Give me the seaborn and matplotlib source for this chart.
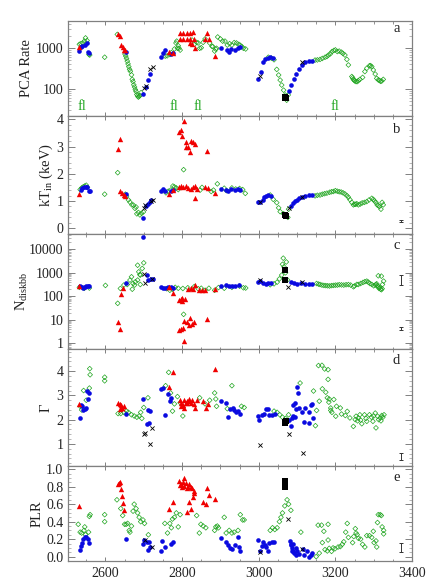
import numpy as np
import seaborn as sns
import matplotlib
matplotlib.use("Agg")
import matplotlib.pyplot as plt
from matplotlib.ticker import MultipleLocator, LogLocator, NullFormatter, FixedLocator, FixedFormatter

# panel a: PCA rate
a_green_x = [2532,2536,2541,2545,2548,2552,2557,2559,2598,2631,2651,2653,2655,2657,2659,2661,2663,2665,2668,2670,2672,2674,2676,2678,2680,2682,2684,2686,2688,2690,2693,
             2756,2761,2768,2772,2780,2784,2786,2788,2790,2792,2795,2826,2832,2838,2842,2846,2850,2855,2860,2872,2878,2880,2885,2888,2890,2893,2900,2906,2912,2918,2924,2930,2936,2942,2948,2952,2956,2960,2966,
             3025,3033,3040,3047,3052,3056,3060,3065,3069,3073,3077,3147,3153,3160,3166,3173,3178,3182,3187,3191,3196,3200,3205,3210,3216,3220,3225,3230,3234,3243,3245,3247,3249,3251,3254,3257,3260,3264,3271,3277,3282,3289,3292,3295,3299,3304,3308,3312,3315,3318,3321,3325]
a_green_y = [1250,1300,1350,1500,1800,1550,700,680,600,2200,720,640,560,480,410,350,300,270,220,170,150,125,110,95,85,72,66,62,65,68,80,
             640,650,700,780,960,1350,1500,1000,1150,1000,900,1600,1250,1400,1350,1000,1030,1400,1700,1350,1120,1100,850,950,1000,1900,1700,1500,1500,1200,1300,1200,1380,1350,1250,1180,1100,1000,960,
             600,570,520,300,218,163,123,92,70,52,70,510,515,530,560,600,625,680,730,825,880,910,830,850,800,740,680,530,386,200,185,170,162,155,150,150,158,170,190,265,320,370,372,350,290,230,180,165,160,152,155,170]
a_blue_x = [2532,2536,2540,2547,2551,2554,2558,2654,2697,2705,2711,2715,2744,2749,2756,2771,2776,2902,2917,2923,2928,2939,2945,2950,2998,3006,3011,3017,3023,3030,3037,3080,3085,3091,3097,3104,3113,3121,3130,3139]
a_blue_y = [875,1100,1150,1200,1330,800,780,820,74,108,165,230,600,750,900,710,780,1000,900,820,950,900,1000,1060,175,265,470,530,570,600,570,90,125,170,230,310,390,470,490,490]
a_red_x = [2530,2633,2637,2640,2645,2649,2652,2766,2777,2795,2803,2812,2821,2829,2795,2803,2812,2821,2825,2834,2865,2860,2869,2885,2830,2821]
a_red_y = [1050,2200,2050,1200,1100,910,880,830,750,2350,2400,2350,2350,2500,1680,1680,1650,1650,1300,1000,2350,1680,1680,650,1650,1350]
a_black_x = [3068,3069,3070]
a_black_y = [60,62,58]
a_cross_x = [2701,2706,2716,2723,3004,3113]
a_cross_y = [105,115,300,340,205,470]

# panel b: inner disk temperature
b_green_x = [2534,2538,2542,2546,2550,2553,2598,2632,2804,2652,2655,2660,2664,2669,2673,2677,2680,2682,2686,2690,2694,2699,2758,2764,2770,2776,2780,2785,2790,2847,2852,2876,2882,2892,2910,2916,2930,2940,2950,2958,2965,
             3030,3038,3047,3052,3056,3065,3070,3076,3078,3147,3153,3160,3166,3172,3178,3185,3190,3195,3200,3205,3210,3215,3220,3225,3230,3234,3238,3243,3247,3250,3253,3256,3260,3265,3270,3276,3282,3288,3295,3299,3302,3306,3309,3312,3315,3319,3325,3322]
b_green_y = [1.42,1.48,1.52,1.55,1.58,1.5,1.25,2.04,2.15,1.25,1.18,1.04,.96,.86,.85,.73,.78,.53,.58,.49,.55,.6,1.3,1.36,1.4,1.55,1.52,1.48,1.42,1.4,1.5,1.35,1.4,1.63,1.47,1.38,1.48,1.44,1.46,1.42,1.28,
             1.22,1.06,.94,.75,.61,.53,.45,.4,.7,1.19,1.21,1.22,1.25,1.27,1.29,1.32,1.34,1.35,1.38,1.36,1.34,1.33,1.3,1.26,1.2,1.14,1.05,.95,.86,.88,.88,.9,.86,.89,.93,.95,.98,1.04,1.1,1.06,1.0,.95,.86,.83,.8,.7,.86,.95]
b_blue_x = [2536,2540,2544,2548,2552,2556,2560,2654,2698,2706,2711,2716,2720,2744,2750,2756,2771,2776,2902,2915,2920,2928,2938,2945,2952,2998,3004,3010,3015,3020,3025,3032,3085,3090,3095,3100,3106,3113,3120,3130,3140]
b_blue_y = [1.42,1.47,1.5,1.52,1.5,1.37,1.38,1.25,.37,.83,.9,.97,1.02,1.37,1.43,1.37,1.35,1.42,1.44,1.4,1.37,1.45,1.4,1.43,1.42,.95,.98,1.05,1.15,1.2,1.22,1.2,.83,.92,1.0,1.05,1.1,1.15,1.2,1.23,1.22]
b_red_x = [2530,2634,2637,2638,2643,2649,2652,2766,2777,2793,2798,2803,2810,2816,2822,2828,2834,2840,2860,2868,2885,2793,2796,2800,2805,2809,2810,2815,2821,2824,2829,2833,2865,2834]
b_red_y = [1.25,2.9,3.28,1.38,1.31,1.22,1.2,1.25,1.4,1.53,1.55,1.5,1.55,1.48,1.43,1.5,1.55,1.45,1.52,1.48,1.3,3.55,3.6,3.4,3.94,3.0,3.15,3.0,2.78,3.2,3.15,3.1,2.85,1.11]
b_black_x = [3068,3069,3070]
b_black_y = [.47,.5,.45]
b_cross_x = [2701,2704,2718,2723,3004,3078,3113]
b_cross_y = [.75,.85,1.0,1.05,.98,.75,1.15]

# panel c: disk normalisation
c_green_x = [2532,2545,2558,2600,2632,2639,2648,2657,2664,2668,2672,2678,2684,2670,2676,2691,2687,2684,2691,2700,2696,2690,2760,2768,2775,2782,2790,2802,2815,2832,2842,2850,2860,2870,2885,2895,2910,2930,2950,2960,2966,
             3030,3040,3048,3054,3060,3062,3064,3066,3068,3070,3072,3075,
             3151,3156,3160,3165,3170,3175,3180,3185,3190,3195,3200,3205,3210,3216,3222,3228,3234,3240,3247,3250,3256,3260,3266,3272,3277,3282,3286,3290,3295,3300,3304,3306,3308,3310,3312,3314,3316,3318,3320,3322,3312,3320,3326,3323,2804]
c_green_y = [240,220,225,290,50,215,300,318,490,675,350,415,490,200,300,318,1100,2100,800,2650,1530,850,210,180,200,240,220,215,230,260,210,220,180,220,180,235,220,240,270,230,225,
             310,340,400,550,800,2300,4200,1800,1400,1000,2900,500,
             350,330,318,300,290,285,280,275,285,290,298,300,310,305,300,310,315,300,254,275,320,318,350,388,420,442,400,350,320,280,300,318,340,280,250,215,240,200,190,210,745,720,442,318,17]
c_blue_x = [2534,2538,2542,2546,2550,2554,2558,2654,2699,2708,2712,2718,2723,2744,2750,2756,2764,2771,2776,2902,2915,2922,2930,2938,2948,2998,3004,3012,3018,3025,3032,3085,3092,3100,3110,3120,3130,3139]
c_blue_y = [270,260,230,250,270,275,270,360,33000,810,500,530,570,240,235,220,240,260,220,270,290,280,270,265,300,420,430,350,340,350,360,400,370,340,380,340,320,320]
c_red_x = [2530,2633,2637,2640,2646,2766,2777,2793,2797,2800,2808,2815,2822,2828,2834,2845,2852,2860,2885,2766,2805,2793,2797,2802,2806,2812,2817,2821,2825,2832,2865,2799]
c_red_y = [270,8,4.2,130,230,240,140,70,80,85,80,200,220,200,300,190,180,190,200,240,1.2,3.5,4,4.5,9,8,6,12,6.5,8,11,65]
c_black_x = [3069,3069]
c_black_y = [1300,470]
c_cross_x = [2701,2704,2721,3004,3077,3113]
c_cross_y = [890,380,550,500,260,420]

# panel d: photon index
d_green_x = [2534,2538,2543,2550,2558,2559,2560,2598,2598,2633,2640,2648,2655,2660,2668,2675,2682,2688,2692,2695,2700,2711,2757,2765,2770,2775,2780,2788,2795,2802,2846,2860,2872,2885,2888,2890,2918,2930,2955,2962,
             3040,3048,3055,3062,3070,3078,3108,3143,3148,3151,3156,3158,3165,3166,3172,3175,3179,3181,3181,3183,3184,3188,3191,3188,3196,3201,3203,3213,3216,3226,3231,3238,3247,3254,3252,3258,3260,3264,3266,3269,3276,3280,3282,3289,3294,3298,3300,3304,3306,3310,3313,3317,3321,3319,3324,3327]
d_green_y = [2.55,2.4,3.2,2.8,3.3,4.1,3.85,3.75,3.6,2.25,2.25,2.3,2.35,2.3,2.2,2.15,2.1,2.15,2.3,2.05,2.5,2.9,3.4,3.95,3.1,2.35,2.65,2.95,2.7,2.15,2.9,2.65,2.8,3.1,2.85,2.55,2.45,3.4,2.55,2.5,
             2.35,2.3,2.2,2.1,2.05,2.2,3.51,3.18,1.75,2.38,4.23,2.76,4.24,3.27,4.09,3.13,2.9,4.06,3.66,2.72,2.85,2.48,2.3,2.38,2.83,2.14,2.55,2.48,2.23,2.17,2.34,2.07,1.72,2.14,2.0,1.95,2.07,2.2,1.98,1.83,2.2,2.05,1.93,2.2,2.1,1.93,2.15,2.27,1.66,2.14,2.0,2.07,2.17,1.95,2.1,2.2]
d_blue_x = [2534,2536,2538,2542,2546,2550,2552,2554,2557,2653,2698,2708,2712,2713,2716,2744,2749,2756,2763,2768,2770,2902,2914,2920,2925,2932,2936,2940,2945,2950,
            2998,3000,3008,3014,3018,3024,3028,3035,3042,3075,3080,3084,3086,3090,3094,3098,3100,3103,3106,3112,3118,3122,3130,3136,3142,3090,3095,3138,3132]
d_blue_y = [2.05,2.6,2.55,2.4,2.45,2.5,3.2,2.85,3.1,2.25,2.85,1.8,2.4,1.85,2.35,3.25,3.3,2.2,3.05,2.75,2.9,2.75,2.7,2.1,2.45,2.5,2.4,2.3,2.35,2.25,
            2.15,2.0,2.2,2.25,2.45,2.45,2.2,2.2,2.25,1.95,2.0,1.75,2.05,2.6,2.7,2.45,3.35,3.1,2.5,2.3,1.9,2.5,1.85,2.6,2.05,2.15,2.1,2.65,2.3]
d_red_x = [2530,2633,2637,2640,2644,2648,2638,2642,2766,2777,2794,2798,2802,2806,2810,2814,2818,2822,2826,2830,2798,2806,2812,2835,2855,2863,2868,2885,2840,2818]
d_red_y = [2.65,2.7,2.65,2.6,2.5,2.55,2.45,2.5,3.35,3.95,2.8,2.7,2.6,2.8,2.7,2.75,2.85,2.7,2.8,2.65,2.55,2.5,2.7,2.5,2.75,2.5,2.65,4.1,2.8,2.75]
d_black_x = [3069,3069,3070]
d_black_y = [1.85,1.9,1.95]
d_cross_x = [2701,2704,2716,2722,3004,3078,3115]
d_cross_y = [1.42,1.45,1.0,1.65,.97,1.4,.62]

# panel e: power law ratio
e_green_x = [2529,2534,2538,2544,2546,2548,2556,2558,2560,2598,2598,2630,2640,2645,2650,2654,2658,2662,2664,2668,2672,2675,2680,2684,2688,2692,2698,2702,2712,2755,2762,2768,2772,2775,2780,2785,2790,2795,2838,2845,2849,2855,2862,2885,2888,2892,2895,2910,2915,2923,2930,2936,2946,2952,2958,2962,
             3030,3036,3042,3048,3054,3058,3062,3068,3074,3078,3084,3110,3150,3158,3155,3164,3181,3170,3181,3166,3173,3179,3184,3190,3194,3199,3207,3213,3218,3222,3227,3231,3234,3245,3248,3252,3254,3257,3260,3266,3271,3277,3282,3289,3295,3299,3301,3306,3308,3310,3312,3317,3320,3322,3326,3326]
e_green_y = [.37,.28,.27,.3,.34,.25,.28,.46,.48,.48,.4,.65,.55,.47,.37,.37,.38,.3,.28,.35,.52,.6,.55,.5,.45,.4,.42,.38,.25,.38,.27,.38,.33,.43,.45,.5,.34,.48,.47,.27,.37,.35,.33,.3,.34,.35,.33,.45,.27,.3,.27,.28,.3,.48,.42,.42,
             .3,.33,.31,.33,.4,.45,.5,.58,.65,.6,.53,.28,.0,.04,.36,.36,.37,.29,.19,.16,.08,.065,.095,.06,.1,.09,.11,.115,.14,.17,.28,.38,.22,.16,.23,.32,.27,.25,.21,.2,.14,.11,.24,.24,.22,.29,.16,.18,.11,.39,.48,.48,.47,.34,.3,.26]
e_blue_x = [2534,2536,2540,2542,2546,2550,2554,2558,2653,2697,2701,2708,2713,2715,2710,2744,2747,2756,2771,2776,2902,2915,2921,2925,2930,2938,2945,2948,2950,
            2998,3004,3008,3012,3016,3020,3023,3028,3034,3040,3082,3084,3086,3088,3090,3093,3096,3098,3100,3105,3115,3118,3125,3132,3136,3140,3083,3090]
e_blue_y = [.08,.12,.16,.2,.22,.23,.2,.16,.2,.15,.19,.17,.17,.11,.08,.07,.18,.11,.15,.17,.21,.17,.13,.1,.09,.13,.22,.11,.07,
            .19,.06,.12,.17,.13,.11,.07,.16,.17,.17,.18,.13,.1,.07,.15,.04,.1,.02,.07,.03,.09,.02,.07,.0,.02,.04,.14,.06]
e_red_x = [2530,2632,2636,2638,2640,2642,2647,2649,2766,2777,2793,2795,2798,2800,2804,2802,2806,2810,2812,2816,2818,2822,2826,2830,2832,2828,2817,2824,2813,2854,2863,2865,2869,2885]
e_red_y = [.58,.83,.84,.85,.77,.69,.61,.53,.55,.63,.86,.82,.83,.8,.9,.85,.81,.84,.79,.8,.83,.8,.79,.75,.73,.68,.62,.55,.515,.63,.6,.79,.71,.66]
e_black_x = [3069,3069,3069,3069,3069]
e_black_y = [.8,.82,.84,.86,.81]
e_cross_x = [2703,2721,3004,3077,3114]
e_cross_y = [.19,.11,.05,.43,.09]

panel_letters = ["a", "b", "c", "d", "e"]
letter_y = [0.913, 0.88, 0.9, 0.9, 0.88]
y_labels = ["PCA Rate", r"kT$_{\mathrm{in}}$ (keV)", r"N$_{\mathrm{diskbb}}$", "\u0393", "PLR"]
label_x = [-0.1, -0.035, -0.11, -0.043, -0.068]
fl_days = [2540, 2780, 2841, 3200]
err_x = 3371
err_b = [0.27, 0.05]
err_c = [[550, 250, 260], [4.2, 0.7, 0.8]]
err_d = [0.475, 0.135]
err_e = [0.105, 0.055]

GREEN = "#1fa51f"
BLUE = "#0a0ae0"
RED = "#f00000"
FRAME = "#808080"
TEXT = "#222222"

sns.set_theme(style="ticks")
plt.rcParams["font.family"] = ["Liberation Serif", "DejaVu Serif"]
plt.rcParams["mathtext.fontset"] = "custom"
plt.rcParams["mathtext.rm"] = "Liberation Serif"
plt.rcParams["mathtext.it"] = "Liberation Serif:italic"
plt.rcParams["mathtext.bf"] = "Liberation Serif:bold"


def draw_panel(ax, green, blue, red, black, cross):
    sns.scatterplot(x=green[0], y=green[1], ax=ax, marker="D", s=6, facecolors="none",
                    edgecolor=GREEN, linewidth=0.5, zorder=2)
    sns.scatterplot(x=blue[0], y=blue[1], ax=ax, marker="o", s=11, color=BLUE, linewidth=0, zorder=3)
    sns.scatterplot(x=red[0], y=red[1], ax=ax, marker="^", s=15, color=RED, linewidth=0, zorder=4)
    sns.scatterplot(x=black[0], y=black[1], ax=ax, marker="s", s=15, color="black", linewidth=0, zorder=5)
    ax.scatter(cross[0], cross[1], marker="x", s=9, color="black", linewidth=0.6, zorder=6)


fig, axes = plt.subplots(5, 1, figsize=(4.32, 5.83), dpi=100, sharex=True,
                         gridspec_kw={"height_ratios": [95, 118.3, 115.3, 116.4, 95.3], "hspace": 0})
fig.subplots_adjust(left=67.5 / 432, right=412 / 432, top=1 - 20.7 / 583, bottom=1 - 561 / 583)

draw_panel(axes[0], (a_green_x, a_green_y), (a_blue_x, a_blue_y), (a_red_x, a_red_y), (a_black_x, a_black_y), (a_cross_x, a_cross_y))
draw_panel(axes[1], (b_green_x, b_green_y), (b_blue_x, b_blue_y), (b_red_x, b_red_y), (b_black_x, b_black_y), (b_cross_x, b_cross_y))
draw_panel(axes[2], (c_green_x, c_green_y), (c_blue_x, c_blue_y), (c_red_x, c_red_y), (c_black_x, c_black_y), (c_cross_x, c_cross_y))
draw_panel(axes[3], (d_green_x, d_green_y), (d_blue_x, d_blue_y), (d_red_x, d_red_y), (d_black_x, d_black_y), (d_cross_x, d_cross_y))
draw_panel(axes[4], (e_green_x, e_green_y), (e_blue_x, e_blue_y), (e_red_x, e_red_y), (e_black_x, e_black_y), (e_cross_x, e_cross_y))

axes[0].set_yscale("log")
axes[2].set_yscale("log")
axes[0].set_ylim(21.5, 4800)
axes[1].set_ylim(-0.21, 4.13)
axes[2].set_ylim(0.55, 45000)
axes[3].set_ylim(0.1, 4.9)
axes[4].set_ylim(-0.05, 1.04)
axes[4].set_xlim(2501, 3400)

axes[0].yaxis.set_major_locator(FixedLocator([100, 1000]))
axes[0].yaxis.set_major_formatter(FixedFormatter(["100", "1000"]))
axes[0].yaxis.set_minor_locator(LogLocator(base=10, subs=np.arange(2, 10) / 1.0, numticks=10))
axes[0].yaxis.set_minor_formatter(NullFormatter())
axes[2].yaxis.set_major_locator(FixedLocator([1, 10, 100, 1000, 10000]))
axes[2].yaxis.set_major_formatter(FixedFormatter(["1", "10", "100", "1000", "10000"]))
axes[2].yaxis.set_minor_locator(LogLocator(base=10, subs=np.arange(2, 10) / 1.0, numticks=10))
axes[2].yaxis.set_minor_formatter(NullFormatter())
axes[1].yaxis.set_major_locator(MultipleLocator(1))
axes[1].yaxis.set_minor_locator(MultipleLocator(0.2))
axes[3].yaxis.set_major_locator(MultipleLocator(1))
axes[3].yaxis.set_minor_locator(MultipleLocator(0.2))
axes[4].yaxis.set_major_locator(MultipleLocator(0.2))
axes[4].yaxis.set_minor_locator(MultipleLocator(0.05))
axes[4].yaxis.set_major_formatter("{x:.1f}")
axes[4].xaxis.set_major_locator(MultipleLocator(200))
axes[4].xaxis.set_minor_locator(MultipleLocator(50))

for ax, letter, ly, label, lx in zip(axes, panel_letters, letter_y, y_labels, label_x):
    ax.tick_params(axis="y", which="major", direction="in", left=True, right=True, length=5, width=0.7, color=FRAME,
                   labelsize=10, labelcolor=TEXT, pad=3)
    ax.tick_params(axis="y", which="minor", direction="in", left=True, right=True, length=2.5, width=0.4, color=FRAME)
    ax.tick_params(axis="x", which="major", direction="in", top=True, bottom=True, length=3, width=0.7, color=FRAME,
                   labelsize=10, labelcolor=TEXT, pad=4)
    ax.tick_params(axis="x", which="minor", direction="in", top=True, bottom=True, length=1.8, width=0.6, color=FRAME)
    for spine in ax.spines.values():
        spine.set_color(FRAME)
        spine.set_linewidth(0.9)
    ax.set_ylabel(label, fontsize=10.5, color=TEXT)
    ax.yaxis.set_label_coords(lx, 0.5)
    ax.text(0.955, ly, letter, transform=ax.transAxes, ha="center", va="center", fontsize=10.5, color=TEXT)

for day in fl_days:
    axes[0].text(day, 0.1, "fl", transform=axes[0].get_xaxis_transform(), ha="center", va="center",
                 fontsize=10.5, color=GREEN)

err_style = dict(fmt="none", ecolor="#333333", elinewidth=0.7, capsize=1.6, capthick=0.7)
axes[1].errorbar([err_x], [err_b[0]], yerr=[err_b[1]], **err_style)
axes[2].errorbar([err_x], [err_c[0][0]], yerr=[[err_c[0][1]], [err_c[0][2]]], **err_style)
axes[2].errorbar([err_x], [err_c[1][0]], yerr=[[err_c[1][1]], [err_c[1][2]]], **err_style)
axes[3].errorbar([err_x], [err_d[0]], yerr=[err_d[1]], **err_style)
axes[4].errorbar([err_x], [err_e[0]], yerr=[err_e[1]], **err_style)

fig.savefig("out.png", dpi=100)
